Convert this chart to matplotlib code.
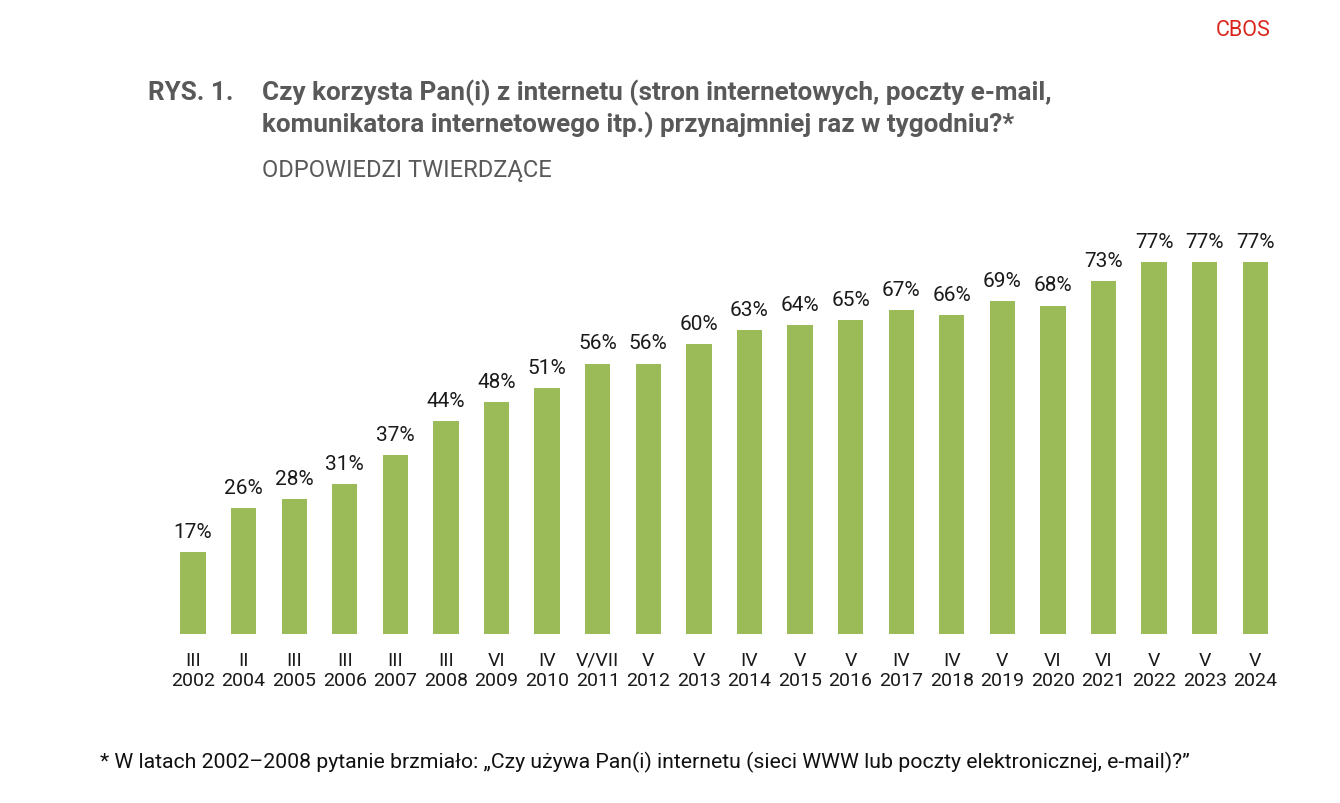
import matplotlib.pyplot as plt

plt.rcParams['font.family'] = ['Roboto', 'DejaVu Sans']

months = ['III', 'II', 'III', 'III', 'III', 'III', 'VI', 'IV', 'V/VII', 'V', 'V',
          'IV', 'V', 'V', 'IV', 'IV', 'V', 'VI', 'VI', 'V', 'V', 'V']
years = ['2002', '2004', '2005', '2006', '2007', '2008', '2009', '2010', '2011', '2012',
         '2013', '2014', '2015', '2016', '2017', '2018', '2019', '2020', '2021', '2022',
         '2023', '2024']
values = [17, 26, 28, 31, 37, 44, 48, 51, 56, 56, 60, 63, 64, 65, 67, 66, 69, 68, 73,
          77, 77, 77]

W, H = 1340, 804
fig = plt.figure(figsize=(W / 100, H / 100), dpi=100)

# axes placed in pixel terms
left, right = 167.7, 1280.6
bottom, top = 635, 152
ax = fig.add_axes([left / W, 1 - bottom / H, (right - left) / W, (bottom - top) / H])

x = range(len(values))
bars = ax.bar(x, values, width=0.5, color='#9bbb59')
for i, v in enumerate(values):
    ax.annotate(f'{v}%', (i, v), xytext=(0, 8), textcoords='offset points',
                ha='center', va='bottom', fontsize=15, color='#1a1a1a')

ax.set_xlim(-0.5, len(values) - 0.5)
ax.set_ylim(0, 100)
ax.set_xticks(list(x))
ax.set_xticklabels([m + '\n' + y for m, y in zip(months, years)], fontsize=14,
                   color='#1a1a1a', linespacing=1.15)
ax.tick_params(axis='x', length=0, pad=12)
ax.set_yticks([])
for s in ax.spines.values():
    s.set_visible(False)

gray = '#595959'
fig.text(1216 / W, 1 - 31 / H, 'CBOS', color='#d9261c', fontsize=15.5, va='center')
fig.text(148 / W, 1 - 93 / H, 'RYS. 1.', color=gray, fontsize=18.8, fontweight='bold',
         va='center')
fig.text(262 / W, 1 - 93 / H, 'Czy korzysta Pan(i) z internetu (stron internetowych, poczty e-mail,',
         color=gray, fontsize=18.8, fontweight='bold', va='center')
fig.text(262 / W, 1 - 125 / H, 'komunikatora internetowego itp.) przynajmniej raz w tygodniu?*',
         color=gray, fontsize=18.8, fontweight='bold', va='center')
fig.text(262 / W, 1 - 170 / H, 'ODPOWIEDZI TWIERDZĄCE', color=gray, fontsize=17,
         va='center')
fig.text(100 / W, 1 - 762 / H,
         '* W latach 2002–2008 pytanie brzmiało: „Czy używa Pan(i) internetu (sieci WWW lub poczty elektronicznej, e-mail)?”',
         color='#111111', fontsize=15.3, va='center')

fig.savefig('out.png', dpi=100)
